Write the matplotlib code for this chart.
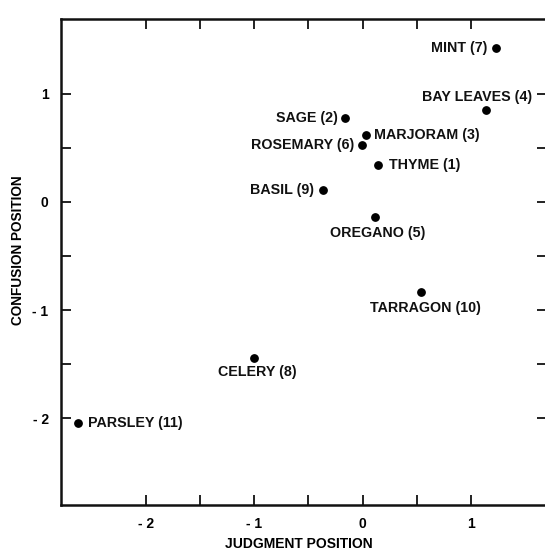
import matplotlib
matplotlib.use("Agg")
import matplotlib.pyplot as plt

# herbs: name, rank number, judgment (x) and confusion (y) positions
herbs = ["MINT", "BAY LEAVES", "SAGE", "MARJORAM", "ROSEMARY", "THYME",
         "BASIL", "OREGANO", "TARRAGON", "CELERY", "PARSLEY"]
ranks = [7, 4, 2, 3, 6, 1, 9, 5, 10, 8, 11]
judgment = [1.23, 1.14, -0.16, 0.03, -0.01, 0.14, -0.37, 0.11, 0.54, -1.00, -2.62]
confusion = [1.42, 0.85, 0.77, 0.62, 0.52, 0.34, 0.11, -0.14, -0.83, -1.44, -2.04]

# where each label sits relative to its dot (offset in points, alignment)
label_place = {
    "MINT": ((-6.5, 0), "right"),
    "BAY LEAVES": ((33, 9.5), "right"),
    "SAGE": ((-5.5, 0), "right"),
    "MARJORAM": ((5.5, 0), "left"),
    "ROSEMARY": ((-5, 0), "right"),
    "THYME": ((8, 0), "left"),
    "BASIL": ((-6.5, 0), "right"),
    "OREGANO": ((2, -11.5), "center"),
    "TARRAGON": ((3, -11.5), "center"),
    "CELERY": ((2, -10), "center"),
    "PARSLEY": ((7, 0), "left"),
}

x_ticks = [-2, -1, 0, 1]
x_ticklabels = ["- 2", "- 1", "0", "1"]
x_minor = [-1.5, -0.5, 0.5]
y_ticks = [1, 0, -1, -2]
y_ticklabels = ["1", "0", "- 1", "- 2"]
y_minor = [0.5, -0.5, -1.5]

plt.rcParams["font.family"] = ["Liberation Sans", "DejaVu Sans"]
plt.rcParams["font.weight"] = "bold"

fig = plt.figure(figsize=(5.45, 5.53), dpi=100)
ax = fig.add_axes([0.112, 0.087, 0.892, 0.879])

ax.scatter(judgment, confusion, s=28, color="black", zorder=3)
for name, rank, x, y in zip(herbs, ranks, judgment, confusion):
    offset, ha = label_place[name]
    ax.annotate("{} ({})".format(name, rank), (x, y), xytext=offset,
                textcoords="offset points", ha=ha, va="center",
                fontsize=10.3, fontweight="bold", color="#111111")

ax.set_xlim(-2.78, 1.70)
ax.set_ylim(-2.80, 1.69)

ax.set_xticks(x_ticks)
ax.set_xticklabels(x_ticklabels)
ax.set_yticks(y_ticks)
ax.set_yticklabels(y_ticklabels)
ax.set_xticks(x_minor, minor=True)
ax.set_yticks(y_minor, minor=True)

ax.tick_params(which="both", direction="in", top=True, right=True,
               width=1.3, length=7, color="#111111")
ax.tick_params(axis="x", pad=9, labelsize=10)
ax.tick_params(axis="y", pad=9, labelsize=10)

for side in ["left", "bottom", "top"]:
    ax.spines[side].set_linewidth(1.8)
    ax.spines[side].set_color("#111111")
ax.spines["right"].set_visible(False)

ax.set_xlabel("JUDGMENT POSITION", fontsize=10, fontweight="bold")
ax.set_ylabel("CONFUSION POSITION", fontsize=9.8, fontweight="bold")
ax.xaxis.set_label_coords(0.49, -0.067)
ax.yaxis.set_label_coords(-0.074, 0.525)

fig.savefig("out.png", dpi=100)
